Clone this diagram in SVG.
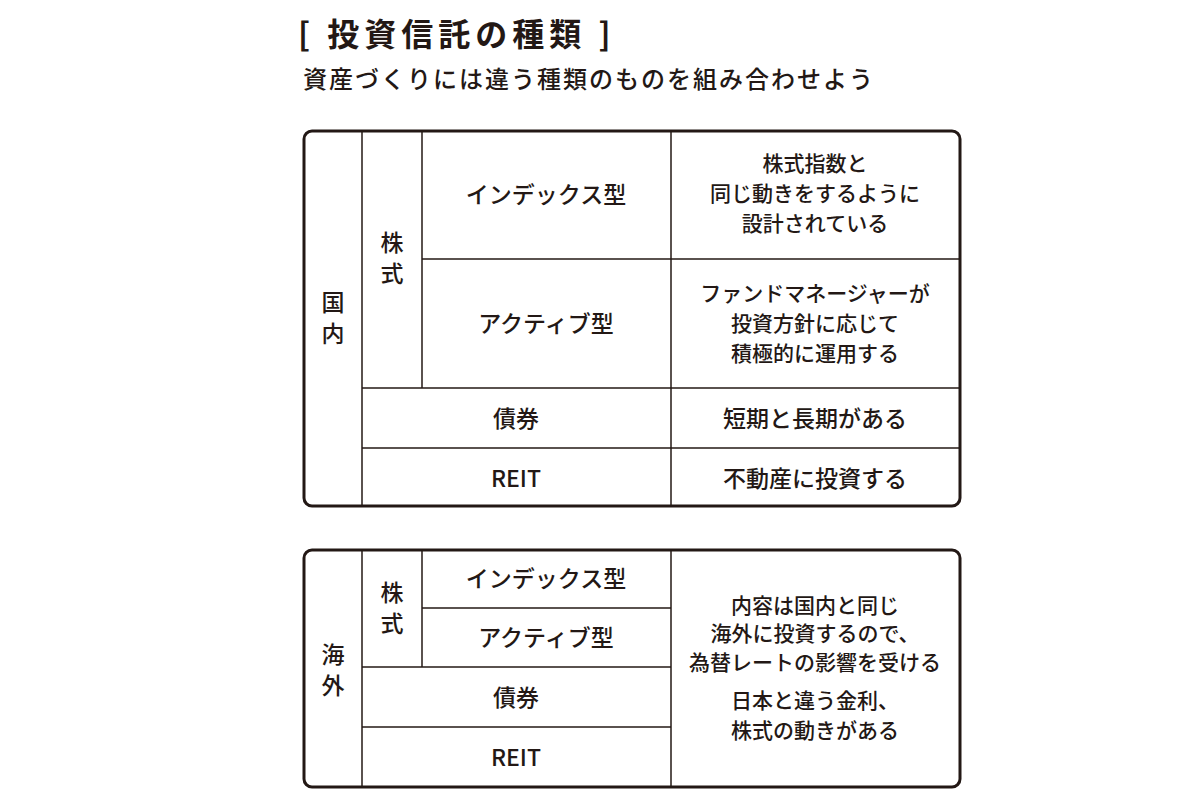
<svg xmlns="http://www.w3.org/2000/svg" width="1200" height="800" viewBox="0 0 1200 800">
<style>
text{font-family:"Noto Sans CJK JP","Noto Sans",sans-serif;fill:#231815;text-anchor:middle}
.t{font-size:32px;font-weight:bold;text-anchor:start;letter-spacing:5px}
.s{font-size:24px;font-weight:500;text-anchor:start;letter-spacing:2px}
.c{font-size:23px;font-weight:500}
.r{font-size:21px;font-weight:500}
.r2{font-size:23px;font-weight:500}
.b{fill:#fff;stroke:#231815;stroke-width:3}
.l{stroke:#231815;stroke-width:1.5}
</style>
<rect width="1200" height="800" fill="#fff"/>
<text class="t" x="298" y="46">[  投資信託の種類  ]</text>
<text class="s" x="303" y="88">資産づくりには違う種類のものを組み合わせよう</text>
<g id="table1">
<rect class="b" x="304" y="131" width="656" height="375" rx="8"/>
<g class="l">
<line x1="362" y1="131" x2="362" y2="506"/>
<line x1="422" y1="131" x2="422" y2="388"/>
<line x1="671" y1="131" x2="671" y2="506"/>
<line x1="422" y1="259" x2="960" y2="259"/>
<line x1="362" y1="388" x2="960" y2="388"/>
<line x1="362" y1="448" x2="960" y2="448"/>
</g>
<text class="c" x="333" y="311">国</text><text class="c" x="333" y="342">内</text>
<text class="c" x="392" y="251">株</text><text class="c" x="392" y="282">式</text>
<text class="c" x="546" y="203">インデックス型</text>
<text class="c" x="546" y="332">アクティブ型</text>
<text class="c" x="516" y="427">債券</text>
<text class="c" x="516" y="487">REIT</text>
<text class="r" x="815" y="171">株式指数と</text>
<text class="r" x="815" y="201">同じ動きをするように</text>
<text class="r" x="815" y="231">設計されている</text>
<text class="r" x="815" y="301">ファンドマネージャーが</text>
<text class="r" x="815" y="331">投資方針に応じて</text>
<text class="r" x="815" y="361">積極的に運用する</text>
<text class="r2" x="815" y="427">短期と長期がある</text>
<text class="r2" x="815" y="487">不動産に投資する</text>
</g>
<g id="table2">
<rect class="b" x="304" y="550" width="656" height="237" rx="8"/>
<g class="l">
<line x1="362" y1="550" x2="362" y2="787"/>
<line x1="422" y1="550" x2="422" y2="667"/>
<line x1="671" y1="550" x2="671" y2="787"/>
<line x1="422" y1="608" x2="671" y2="608"/>
<line x1="362" y1="667" x2="671" y2="667"/>
<line x1="362" y1="727" x2="671" y2="727"/>
</g>
<text class="c" x="333" y="663">海</text><text class="c" x="333" y="694">外</text>
<text class="c" x="392" y="601">株</text><text class="c" x="392" y="632">式</text>
<text class="c" x="546" y="587">インデックス型</text>
<text class="c" x="546" y="646">アクティブ型</text>
<text class="c" x="516" y="706">債券</text>
<text class="c" x="516" y="766">REIT</text>
<text class="r" x="815" y="613">内容は国内と同じ</text>
<text class="r" x="815" y="641">海外に投資するので、</text>
<text class="r" x="815" y="670">為替レートの影響を受ける</text>
<text class="r" x="815" y="708">日本と違う金利、</text>
<text class="r" x="815" y="738">株式の動きがある</text>
</g>
</svg>
